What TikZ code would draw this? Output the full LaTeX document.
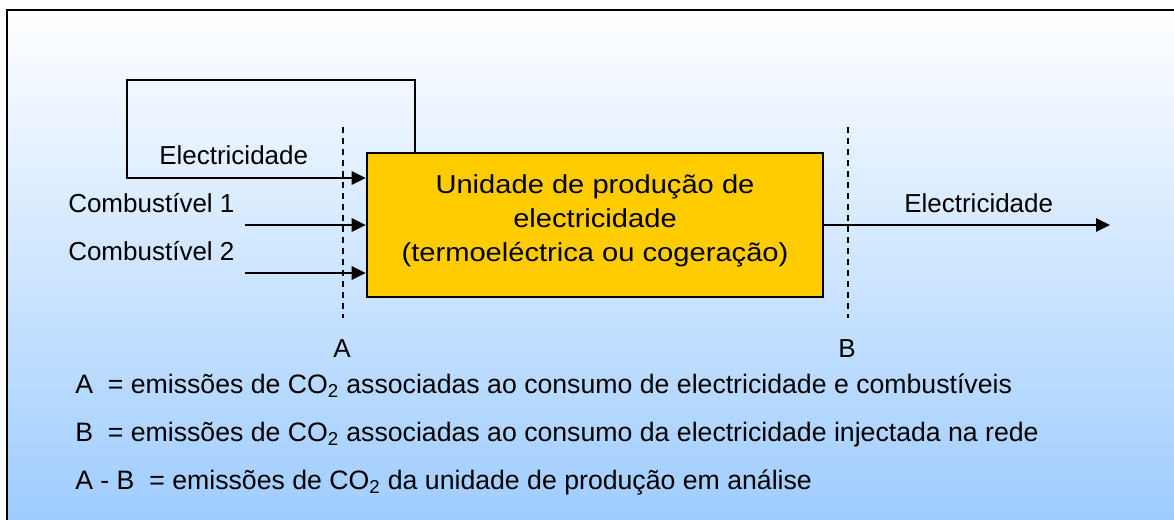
\documentclass[tikz,border=0pt]{standalone}
\usepackage{fontspec}
\setmainfont{Liberation Sans}
\newfontfamily\unitfont[FakeStretch=1.12]{Liberation Sans}
\usetikzlibrary{arrows.meta}
\definecolor{unitfill}{RGB}{255,204,0}
\definecolor{skyfill}{RGB}{158,204,255}
\tikzset{
  flow/.style={line width=1.6pt, -{Triangle[length=10.5pt,width=10pt]}},
  cut/.style={line width=1.1pt, dash pattern=on 4.5pt off 3.75pt},
  lbl/.style={anchor=base west, inner sep=0pt, font=\fontsize{19.5}{24}\selectfont},
  key/.style={lbl, font=\fontsize{20}{24}\selectfont},
}
\begin{document}
\begin{tikzpicture}[x=0.75pt,y=-0.75pt]
  \useasboundingbox (0,0) rectangle (1174,519);
  % background and frame
  \fill[top color=white, bottom color=skyfill] (7,10) rectangle (1180,525);
  \draw[line width=1.7pt] (7,525) -- (7,10) -- (1180,10);
  % production unit
  \node[draw, line width=2pt, fill=unitfill, minimum width=342pt, minimum height=108pt]
        (unit) at (595,225) {};
  \node[align=center, inner sep=0pt, font=\unitfont\fontsize{19.5}{25.5}\selectfont]
        (unitText) at (595,221) {Unidade de produção de\\electricidade\\(termoeléctrica ou cogeração)};
  % boundaries A and B
  \draw[cut] (343,127) -- (343,318);
  \draw[cut] (848,127) -- (848,318);
  \node[lbl, anchor=base] (cutA) at (342,357) {A};
  \node[lbl, anchor=base] (cutB) at (847,357) {B};
  % flows
  \coordinate (loopR) at (415,80);
  \coordinate (loopL) at (127,178);
  \coordinate (fuel1) at (245,225);
  \coordinate (fuel2) at (245,273);
  \coordinate (grid) at (1110,225);
  \draw[flow] (unit.north -| loopR) -- (loopR) -| (loopL) -- (unit.west |- loopL);
  \draw[flow] (fuel1) -- (unit.west |- fuel1);
  \draw[flow] (fuel2) -- (unit.west |- fuel2);
  \draw[flow] (unit.east) -- (grid);
  \node[lbl] (elecIn) at (159,164) {Electricidade};
  \node[lbl] (fuel1Lbl) at (68,212) {Combustível 1};
  \node[lbl] (fuel2Lbl) at (68,260) {Combustível 2};
  \node[lbl] (elecOut) at (904,212) {Electricidade};
  % legend
  \node[key] (keyA) at (75,393) {A\ \ = emissões de CO\textsubscript{2} associadas ao consumo de electricidade e combustíveis};
  \node[key] (keyB) at (75,441) {B\ \ = emissões de CO\textsubscript{2} associadas ao consumo da electricidade injectada na rede};
  \node[key] (keyAB) at (75,489) {A - B\ \ = emissões de CO\textsubscript{2} da unidade de produção em análise};
\end{tikzpicture}
\end{document}
